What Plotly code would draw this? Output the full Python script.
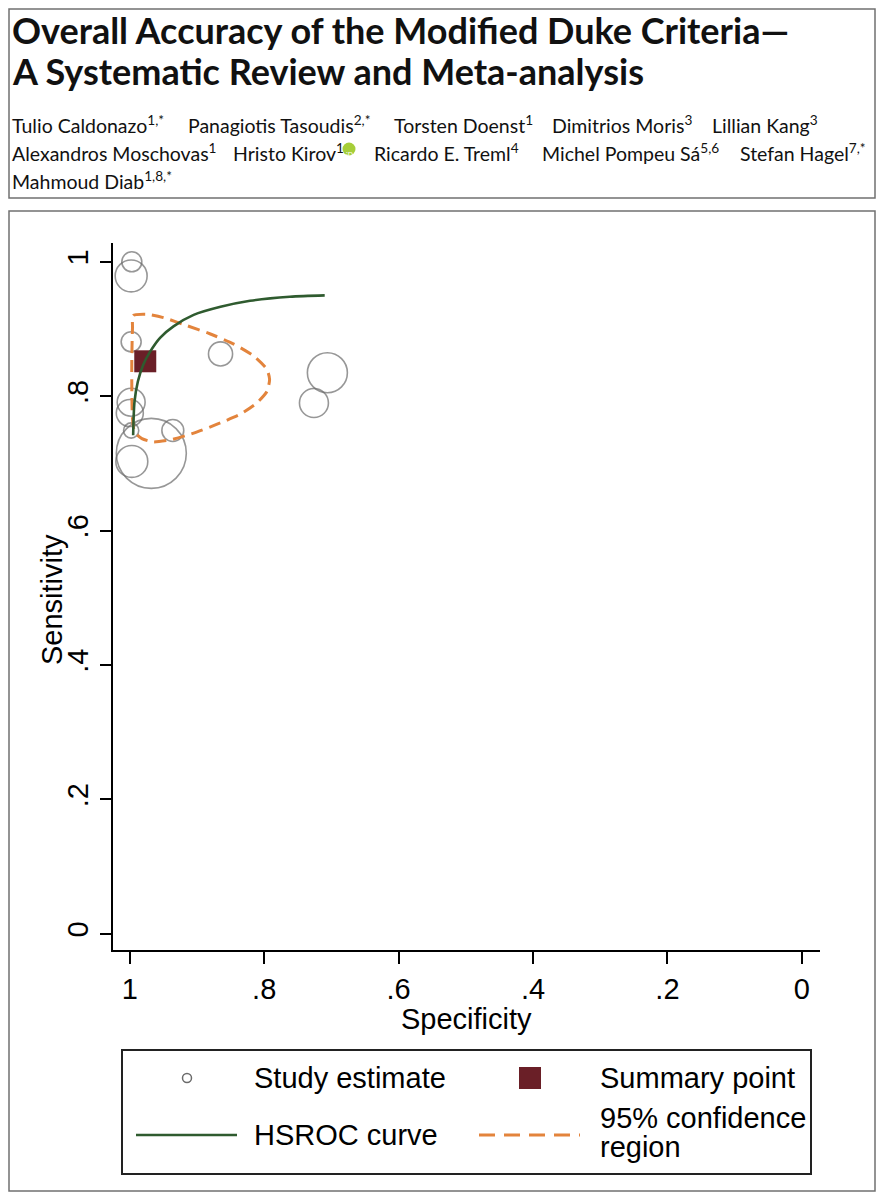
import plotly.graph_objects as go

# Estimaciones por estudio (especificidad, sensibilidad) y peso relativo
study_spec = [0.997, 0.998, 0.998, 0.865, 0.706, 0.726, 0.998, 1.000, 0.998, 0.936, 0.968, 0.997]
study_sens = [1.000, 0.979, 0.881, 0.863, 0.835, 0.790, 0.791, 0.775, 0.749, 0.749, 0.715, 0.703]
study_weight = [4.0, 10.2, 4.0, 5.8, 16.0, 8.4, 7.8, 7.3, 2.3, 4.8, 49.0, 10.2]

# Punto resumen
summary_spec = [0.977]
summary_sens = [0.852]

# Curva HSROC
hsroc_spec = [0.995, 0.993, 0.988, 0.980, 0.970, 0.955, 0.935, 0.905, 0.865, 0.821, 0.762, 0.710]
hsroc_sens = [0.742, 0.792, 0.822, 0.847, 0.866, 0.887, 0.904, 0.921, 0.933, 0.942, 0.948, 0.950]

# Región de confianza 95%
region_spec = [0.996, 0.995, 0.975, 0.950, 0.915, 0.881, 0.846, 0.816, 0.796, 0.792, 0.796, 0.811,
               0.836, 0.871, 0.905, 0.940, 0.965, 0.982, 0.993, 0.996, 0.997, 0.997, 0.996]
region_sens = [0.902, 0.920, 0.922, 0.917, 0.905, 0.893, 0.878, 0.860, 0.840, 0.825, 0.807, 0.790,
               0.773, 0.758, 0.745, 0.735, 0.732, 0.737, 0.747, 0.767, 0.807, 0.857, 0.902]

tick_vals = [1, 0.8, 0.6, 0.4, 0.2, 0]
tick_text = ["1", ".8", ".6", ".4", ".2", "0"]

# Textos de cabecera
title_lines = ["Overall Accuracy of the Modified Duke Criteria—",
               "A Systematic Review and Meta-analysis"]
authors = [
    ["Tulio Caldonazo<sup>1,*</sup>", "Panagiotis Tasoudis<sup>2,*</sup>", "Torsten Doenst<sup>1</sup>",
     "Dimitrios Moris<sup>3</sup>", "Lillian Kang<sup>3</sup>"],
    ["Alexandros Moschovas<sup>1</sup>", "Hristo Kirov<sup>1</sup>", "Ricardo E. Treml<sup>4</sup>",
     "Michel Pompeu Sá<sup>5,6</sup>", "Stefan Hagel<sup>7,*</sup>"],
    ["Mahmoud Diab<sup>1,8,*</sup>"],
]

# Geometría en px de página (el body del html tiene 8 px de margen)
OFF = 8
W, H = 884 - 2 * OFF, 1200 - 2 * OFF
PL, PR, PT, PB = 113, 820, 243, 950

def fx(px):
    return (px - PL) / (PR - PL)

def fy(py):
    return (PB - py) / (PB - PT)

STATA = "Liberation Sans, Arial, sans-serif"
HEAD = "Lato, sans-serif"
GREY = "#6b6b6b"
GREEN = "#2f5b2f"
ORANGE = "#e3843c"
MAROON = "#6a1f27"

fig = go.Figure()

fig.add_trace(go.Scatter(
    x=study_spec, y=study_sens, mode="markers",
    marker=dict(symbol="circle-open", size=study_weight, sizemode="area", sizeref=0.02,
                color=GREY, line=dict(width=1.6, color=GREY)),
    showlegend=False, cliponaxis=False
))
fig.add_trace(go.Scatter(
    x=region_spec, y=region_sens, mode="lines",
    line=dict(color=ORANGE, width=3, dash="12px,7px", shape="spline", smoothing=0.6),
    showlegend=False
))
fig.add_trace(go.Scatter(
    x=summary_spec, y=summary_sens, mode="markers",
    marker=dict(symbol="square", size=22, color=MAROON, line=dict(width=0)),
    showlegend=False
))
fig.add_trace(go.Scatter(
    x=hsroc_spec, y=hsroc_sens, mode="lines",
    line=dict(color=GREEN, width=2.6, shape="spline", smoothing=0.8),
    showlegend=False
))

shapes = []
# Marcos
shapes.append(dict(type="rect", xref="paper", yref="paper", x0=fx(9), x1=fx(875), y0=fy(9), y1=fy(198),
                   line=dict(color="#707070", width=1.5)))
shapes.append(dict(type="rect", xref="paper", yref="paper", x0=fx(9), x1=fx(875), y0=fy(211), y1=fy(1191),
                   line=dict(color="#707070", width=1.5)))
# Leyenda
shapes.append(dict(type="rect", xref="paper", yref="paper", x0=fx(122), x1=fx(811), y0=fy(1050), y1=fy(1174),
                   line=dict(color="#222222", width=2)))
shapes.append(dict(type="circle", xref="paper", yref="paper", x0=fx(182.5), x1=fx(191.5), y0=fy(1073.5), y1=fy(1082.5),
                   line=dict(color=GREY, width=1.5)))
shapes.append(dict(type="rect", xref="paper", yref="paper", x0=fx(519), x1=fx(541), y0=fy(1067), y1=fy(1089),
                   fillcolor=MAROON, line=dict(width=0)))
shapes.append(dict(type="line", xref="paper", yref="paper", x0=fx(136), x1=fx(237), y0=fy(1135), y1=fy(1135),
                   line=dict(color=GREEN, width=2.6)))
shapes.append(dict(type="line", xref="paper", yref="paper", x0=fx(479), x1=fx(580), y0=fy(1135), y1=fy(1135),
                   line=dict(color=ORANGE, width=3, dash="16px,9px")))
# Icono ORCID
shapes.append(dict(type="circle", xref="paper", yref="paper", x0=fx(342.5), x1=fx(355.5), y0=fy(142.5), y1=fy(155.5),
                   fillcolor="#a6ce39", line=dict(width=0)))

annotations = []
for i, line in enumerate(title_lines):
    annotations.append(dict(text=line, xref="paper", yref="paper", x=fx(10), y=fy([30, 71][i]),
                            xanchor="left", yanchor="middle", showarrow=False,
                            font=dict(family=HEAD, size=36, color="#111111", weight=700)))

author_x = [[9.5, 186, 392, 550, 710], [9.5, 231, 372, 540, 738], [9.5]]
author_y = [124.5, 152.5, 180.5]
for r, row in enumerate(authors):
    for c, name in enumerate(row):
        annotations.append(dict(text=name, xref="paper", yref="paper", x=fx(author_x[r][c]), y=fy(author_y[r]),
                                xanchor="left", yanchor="middle", showarrow=False,
                                font=dict(family=HEAD, size=19.5, color="#111111")))
annotations.append(dict(text="iD", xref="paper", yref="paper", x=fx(349), y=fy(149), showarrow=False,
                        font=dict(family=HEAD, size=7, color="white")))

legend_text = [("Study estimate", 252, 1078), ("Summary point", 598, 1078),
               ("HSROC curve", 252, 1135), ("95% confidence", 598, 1118), ("region", 598, 1147)]
for txt, lx, ly in legend_text:
    annotations.append(dict(text=txt, xref="paper", yref="paper", x=fx(lx), y=fy(ly),
                            xanchor="left", yanchor="middle", showarrow=False,
                            font=dict(family=STATA, size=29, color="black")))

annotations.append(dict(text="Specificity", xref="paper", yref="paper", x=fx(466), y=fy(1019),
                        xanchor="center", yanchor="middle", showarrow=False,
                        font=dict(family=STATA, size=29, color="black")))
annotations.append(dict(text="Sensitivity", xref="paper", yref="paper", x=fx(52), y=fy(600),
                        xanchor="center", yanchor="middle", showarrow=False, textangle=-90,
                        font=dict(family=STATA, size=29, color="black")))

fig.update_layout(
    width=W, height=H,
    margin=dict(l=PL - OFF, r=W - (PR - OFF), t=PT - OFF, b=H - (PB - OFF), pad=0),
    paper_bgcolor="white", plot_bgcolor="white",
    shapes=shapes, annotations=annotations,
    showlegend=False,
)
fig.update_xaxes(
    range=[1.025, -0.027], tickvals=tick_vals, ticktext=tick_text,
    showgrid=False, zeroline=False, showline=True, linecolor="black", linewidth=2,
    ticks="outside", ticklen=12, tickwidth=2, tickcolor="black",
    tickfont=dict(family=STATA, size=29, color="black")
)
fig.update_yaxes(
    range=[-0.024, 1.028], tickvals=tick_vals, ticktext=tick_text, tickangle=-90,
    showgrid=False, zeroline=False, showline=True, linecolor="black", linewidth=2,
    ticks="outside", ticklen=11, tickwidth=2, tickcolor="black",
    tickfont=dict(family=STATA, size=29, color="black")
)

fig.write_html("out.html")
